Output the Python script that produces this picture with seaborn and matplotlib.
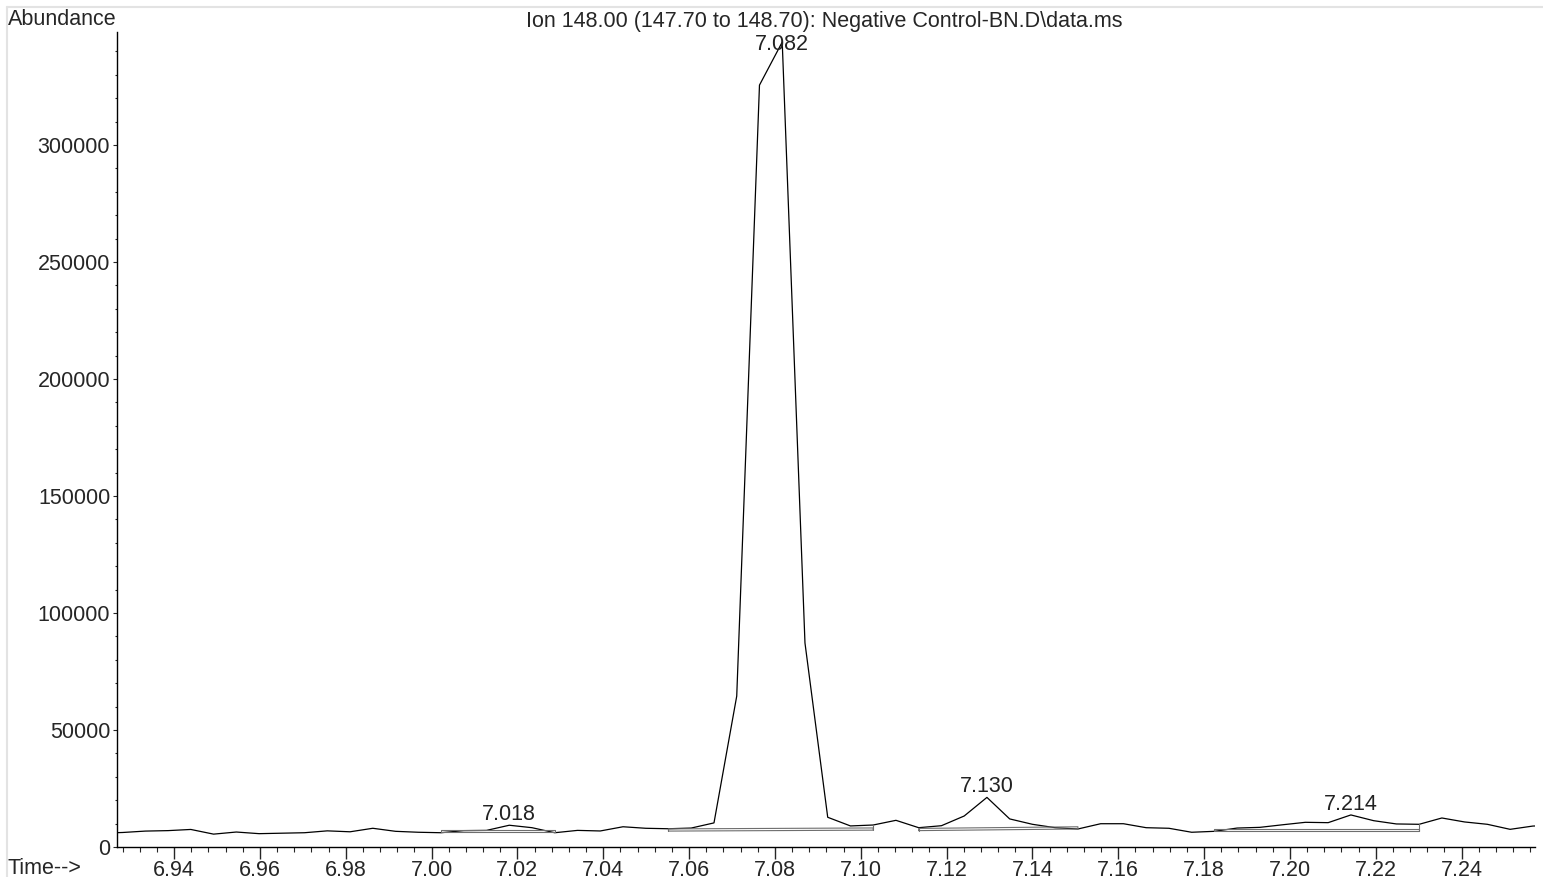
import numpy as np
import pandas as pd
import matplotlib
matplotlib.use("Agg")
import matplotlib.pyplot as plt
import seaborn as sns
from matplotlib.ticker import MultipleLocator, FuncFormatter
from matplotlib.lines import Line2D

# ion 148 trace
times = [6.9227, 6.9280, 6.9333, 6.9386, 6.9439, 6.9492, 6.9545, 6.9598, 6.9651, 6.9704,
         6.9757, 6.9810, 6.9863, 6.9916, 6.9969, 7.0022, 7.0075, 7.0128, 7.0181, 7.0234,
         7.0287, 7.0340, 7.0393, 7.0446, 7.0499, 7.0552, 7.0605, 7.0658, 7.0711, 7.0764,
         7.0817, 7.0870, 7.0923, 7.0976, 7.1029, 7.1082, 7.1135, 7.1188, 7.1241, 7.1294,
         7.1347, 7.1400, 7.1453, 7.1506, 7.1559, 7.1612, 7.1665, 7.1718, 7.1771, 7.1824,
         7.1877, 7.1930, 7.1983, 7.2036, 7.2089, 7.2142, 7.2195, 7.2248, 7.2301, 7.2354,
         7.2407, 7.2460, 7.2513, 7.2566, 7.2619]
abundance = [5900, 6200, 6800, 7000, 7500, 5500, 6400, 5700, 5900, 6100,
             6900, 6500, 8000, 6700, 6300, 6100, 7000, 7100, 9300, 8250,
             6100, 7100, 6850, 8650, 8000, 7800, 8100, 10300, 64500, 325600,
             344000, 87200, 12700, 9000, 9400, 11400, 8250, 9100, 13250, 21200,
             12000, 9700, 8250, 7700, 9950, 9950, 8250, 8000, 6300, 6700,
             8100, 8400, 9500, 10550, 10400, 13700, 11250, 9850, 9700, 12400,
             10700, 9700, 7550, 8950, 9300]

# integrated peaks
peak_labels = ["7.018", "7.082", "7.130", "7.214"]
peak_times = [7.0181, 7.0817, 7.1294, 7.2142]
bl_start = [7.0022, 7.0552, 7.1135, 7.1824]
bl_end = [7.0287, 7.1029, 7.1506, 7.2301]
bl_level_start = [6200, 6800, 7000, 6700]
bl_level_end = [6200, 7200, 7700, 6700]

title = "Ion 148.00 (147.70 to 148.70): Negative Control-BN.D\\data.ms"

sns.set_style("ticks")
plt.rcParams['font.family'] = ['Liberation Sans', 'DejaVu Sans']
FS = 15.5
plt.rcParams['font.size'] = FS

W, H = 1543, 877
fig = plt.figure(figsize=(W / 100, H / 100), dpi=100)
ax = fig.add_axes([117 / W, 1 - 847 / H, (1535 - 117) / W, (847 - 32) / H])

df = pd.DataFrame({"time": times, "abundance": abundance})
sns.lineplot(data=df, x="time", y="abundance", ax=ax, color="black",
             linewidth=0.9, estimator=None, sort=False)

xmin, xmax = 6.9267, 7.2571
ytop = 348300
ax.set_xlim(xmin, xmax)
ax.set_ylim(0, ytop)
upp = ytop / 815.0  # data units per pixel

# baselines drawn as thin boxes with end ticks up to the signal
box_h = 2.2 * upp
for ts, te, bs, be in zip(bl_start, bl_end, bl_level_start, bl_level_end):
    ss = np.interp(ts, times, abundance)
    se = np.interp(te, times, abundance)
    ax.plot([ts, te, te, ts, ts], [bs, be, be + box_h, bs + box_h, bs],
            color="#6e6e6e", lw=0.8)
    ax.plot([ts, ts], [bs, max(ss, bs)], color="#6e6e6e", lw=0.8)
    ax.plot([te, te], [be, max(se, be)], color="#6e6e6e", lw=0.8)

for lab, pt in zip(peak_labels, peak_times):
    ya = np.interp(pt, times, abundance)
    yl = min(ya + 5 * upp, ytop - 18.5 * upp)
    ax.text(pt, yl, lab, ha="center", va="baseline", fontsize=FS, color="#222222")

ax.xaxis.set_major_locator(MultipleLocator(0.02))
ax.xaxis.set_minor_locator(MultipleLocator(0.004))
ax.yaxis.set_major_locator(MultipleLocator(50000))
ax.yaxis.set_minor_locator(MultipleLocator(10000))
ax.xaxis.set_major_formatter(FuncFormatter(lambda v, p: f"{v:.2f}"))
ax.yaxis.set_major_formatter(FuncFormatter(lambda v, p: f"{int(round(v))}"))

ax.tick_params(axis="x", which="major", length=8.4, width=1, pad=0.8, labelsize=FS, direction="out")
ax.tick_params(axis="x", which="minor", length=3.6, width=0.8, direction="out")
ax.tick_params(axis="y", which="major", length=2.9, width=0.8, pad=2, labelsize=FS, direction="out")
ax.tick_params(axis="y", which="minor", length=1.8, width=0.8, direction="out")
ax.set_xlabel("")
ax.set_ylabel("")
sns.despine(ax=ax)
for s in ["left", "bottom"]:
    ax.spines[s].set_color("black")
    ax.spines[s].set_linewidth(1)

fig.text(8 / W, 1 - 25 / H, "Abundance", ha="left", va="baseline", fontsize=FS)
fig.text(824.5 / W, 1 - 27 / H, title, ha="center", va="baseline", fontsize=FS)
fig.text(8 / W, 1 - 874 / H, "Time-->", ha="left", va="baseline", fontsize=FS)

# light frame along the top and left edges
fig.add_artist(Line2D([7 / W, 1], [1 - 6.5 / H] * 2, color="#e3e3e3", lw=1.5))
fig.add_artist(Line2D([7 / W] * 2, [0, 1 - 6.5 / H], color="#e3e3e3", lw=1.5))

fig.savefig("out.png", dpi=100)
